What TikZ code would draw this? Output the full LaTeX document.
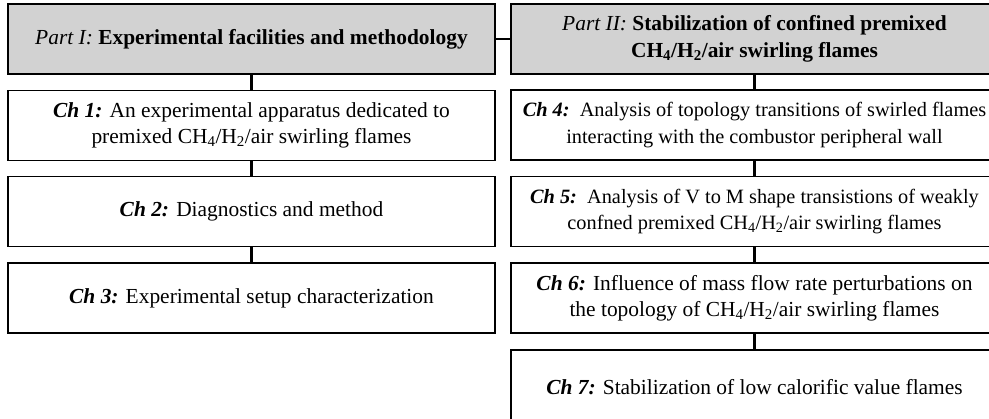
\documentclass[tikz,border=0pt]{standalone}
\usepackage{fontspec}
\setmainfont{Liberation Serif}
\definecolor{partgray}{RGB}{210,210,210}
\begin{document}
\begin{tikzpicture}[x=1bp,y=-1bp,
  boxl/.style={draw=black,line width=1.6bp,minimum width=487bp,minimum height=70bp,inner sep=0pt,align=center,font=\fontsize{21.5}{26.5}\selectfont},
  partbox/.style={boxl,fill=partgray},
  chbox/.style={boxl,fill=white},
  widebox/.style={chbox,font=\fontsize{20.4}{26.5}\selectfont},
  conn/.style={line width=2.6bp,black}]
\useasboundingbox (0,0) rectangle (989,418);
\clip (0,0) rectangle (989,418);
% left column
\node[partbox] (p1) at (251.5,39) {\textit{Part I:} \textbf{Experimental facilities and methodology}};
\node[chbox] (c1) at (251.5,125.5) {\textbf{\textit{Ch 1:}} An experimental apparatus dedicated to\\premixed CH\textsubscript{4}/H\textsubscript{2}/air swirling flames};
\node[chbox] (c2) at (251.5,211.5) {\textbf{\textit{Ch 2:}} Diagnostics and method};
\node[chbox] (c3) at (251.5,298) {\textbf{\textit{Ch 3:}} Experimental setup characterization};
% right column
\node[partbox] (p2) at (754.5,39) {\textit{Part II:} \textbf{Stabilization of confined premixed}\\\textbf{CH\textsubscript{4}/H\textsubscript{2}/air swirling flames}};
\node[widebox] (c4) at (754.5,125) {\textbf{\textit{Ch 4:}}\ \ Analysis of topology transitions of swirled flames\\interacting with the combustor peripheral wall};
\node[widebox] (c5) at (754.5,211.5) {\textbf{\textit{Ch 5:}}\ \ Analysis of V to M shape transistions of weakly\\confned premixed CH\textsubscript{4}/H\textsubscript{2}/air swirling flames};
\node[chbox] (c6) at (754.5,298) {\textbf{\textit{Ch 6:}} Influence of mass flow rate perturbations on\\the topology of CH\textsubscript{4}/H\textsubscript{2}/air swirling flames};
\node[chbox,minimum height=74bp] (c7) at (754.5,387) {\textbf{\textit{Ch 7:}} Stabilization of low calorific value flames};
% connectors
\draw[conn] (p1.east) -- (p2.west);
\draw[conn] (p1.south) -- (c1.north);
\draw[conn] (c1.south) -- (c2.north);
\draw[conn] (c2.south) -- (c3.north);
\draw[conn] (p2.south) -- (c4.north);
\draw[conn] (c4.south) -- (c5.north);
\draw[conn] (c5.south) -- (c6.north);
\draw[conn] (c6.south) -- (c7.north);
\end{tikzpicture}
\end{document}
